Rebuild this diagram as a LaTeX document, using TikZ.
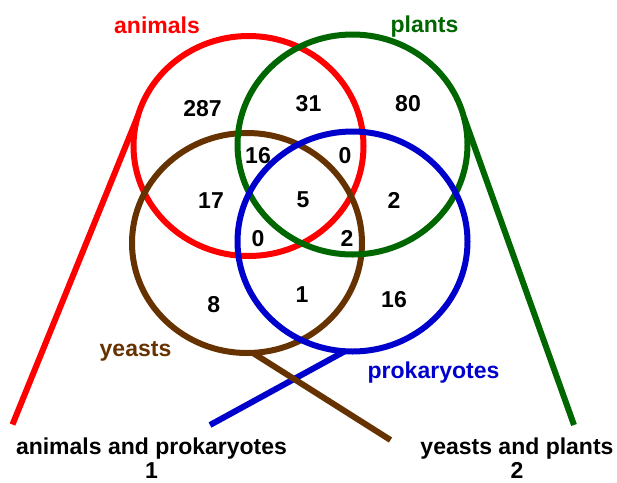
\documentclass[tikz,border=0pt]{standalone}
\usepackage{fontspec}
\setmainfont{Liberation Sans}
\usetikzlibrary{shapes.geometric}
\definecolor{vred}{HTML}{FF0000}
\definecolor{vgreen}{HTML}{006600}
\definecolor{vbrown}{HTML}{663300}
\definecolor{vblue}{HTML}{0000CC}
\begin{document}
\begin{tikzpicture}[x=1pt,y=-1pt,
  setshape/.style={ellipse, draw=#1, line width=6pt, minimum width=230pt, minimum height=220pt, inner sep=0pt, outer sep=0pt},
  lbl/.style={font=\fontsize{23}{27}\selectfont\bfseries, inner sep=0pt, anchor=base},
  link/.style={line width=6pt, draw=#1}]
\useasboundingbox (0,0) rectangle (617,482);
% sets
\node[setshape=vred]   (red)   at (248.5,146) {};
\node[setshape=vbrown] (brown) at (247,243) {};
\node[setshape=vgreen] (green) at (352.5,144.5) {};
\node[setshape=vblue]  (blue)  at (352.5,241.5) {};
% free ends
\coordinate (redend)   at (12.5,424.5);
\coordinate (greenend) at (574,425);
\coordinate (blueend)  at (210,425);
\coordinate (brownend) at (390.5,440);
% connectors
\draw[link=vred]   (red.165)  -- (redend);
\draw[link=vgreen] (green.14) -- (greenend);
\draw[link=vblue]  (blue.-94) -- (blueend);
\draw[link=vbrown] (brown.-87.5) -- (brownend);
% set names
\node[lbl, text=vred]   (tanimals) at (157,33) {animals};
\node[lbl, text=vgreen] (tplants)  at (424.5,32.5) {plants};
\node[lbl, text=vbrown] (tyeasts)  at (135.5,356) {yeasts};
\node[lbl, text=vblue]  (tprok)    at (433.5,378.5) {prokaryotes};
% counts
\node[lbl] (n287) at (202.5,116.7) {287};
\node[lbl] (n31)  at (308.5,111) {31};
\node[lbl] (n80)  at (408,111) {80};
\node[lbl] (n16a) at (258,163.3) {16};
\node[lbl] (n0a)  at (345,163.3) {0};
\node[lbl] (n17)  at (211,208.3) {17};
\node[lbl] (n5)   at (303,207.5) {5};
\node[lbl] (n2a)  at (394,208.3) {2};
\node[lbl] (n0b)  at (258,246.7) {0};
\node[lbl] (n2b)  at (347,246.7) {2};
\node[lbl] (n8)   at (213.7,312.7) {8};
\node[lbl] (n1)   at (302,302.7) {1};
\node[lbl] (n16b) at (394,307.7) {16};
% bottom labels
\node[lbl] (lab1)  at (151.5,454.3) {animals and prokaryotes};
\node[lbl] (lab1n) at (151.5,478.5) {1};
\node[lbl] (lab2)  at (517,454.3) {yeasts and plants};
\node[lbl] (lab2n) at (517,478.5) {2};
\end{tikzpicture}
\end{document}
